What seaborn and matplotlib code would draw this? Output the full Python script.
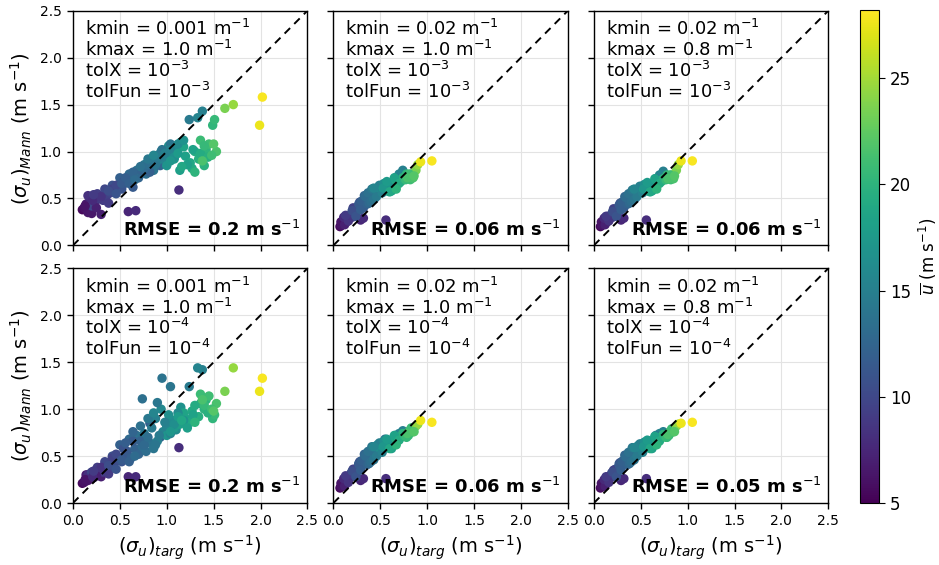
import numpy as np
import pandas as pd
import matplotlib
matplotlib.use("Agg")
import matplotlib.pyplot as plt
import seaborn as sns

# Mean wind speed of each run (colour)
U_mean = [5.5, 6.0, 6.3, 6.5, 6.8, 7.0, 7.2, 7.5, 7.5, 7.8, 8.0,
          8.2, 8.5, 8.8, 9.0, 9.2, 9.5, 9.8, 10.0, 10.2, 10.5, 10.8, 11.0, 10.0, 9.0,
          11.2, 11.5, 11.8, 12.0, 12.2, 12.5, 12.8, 13.0, 13.2, 13.5, 13.8, 14.0, 11.5, 12.0, 12.5,
          14.2, 14.5, 14.8, 15.0, 15.2, 15.5, 15.8, 16.0, 16.2, 16.5,
          15.0, 15.5, 14.5, 13.8, 14.0, 13.5, 14.2, 16.8,
          17.0, 17.5, 18.0, 18.2, 18.5, 18.8, 19.0, 19.2, 19.5, 19.8, 20.0, 20.2, 20.5, 21.0, 21.5, 20.8,
          23.5, 24.5, 27.5, 28.0,
          6.2, 7.0, 7.8, 8.5, 9.0, 9.5, 10.0, 10.5, 10.8, 11.0, 11.5, 11.8, 12.0, 12.2, 12.5, 12.8,
          13.0, 13.3, 13.6, 14.0, 14.3, 14.6, 15.0, 15.3, 15.6, 16.0, 16.4, 16.8, 17.2, 17.6, 18.0,
          18.4, 18.8, 19.2, 19.6, 20.0, 20.5, 21.0, 21.5, 22.0]

# Target sigma_u for kmin = 0.001 and kmin = 0.02
targ_kmin0001 = [0.10, 0.12, 0.16, 0.20, 0.14, 0.30, 0.22, 0.18, 0.59, 0.67, 1.13,
                 0.16, 0.24, 0.28, 0.32, 0.26, 0.36, 0.40, 0.34, 0.44, 0.48, 0.42, 0.52, 0.20, 0.38,
                 0.55, 0.58, 0.62, 0.50, 0.66, 0.70, 0.60, 0.74, 0.78, 0.68, 0.82, 0.86, 0.64, 0.82, 0.93,
                 0.76, 0.84, 0.90, 0.88, 0.96, 1.00, 0.94, 1.06, 1.10, 1.02,
                 1.38, 1.33, 1.24, 0.95, 1.04, 0.74, 0.90, 1.15,
                 1.00, 1.08, 1.14, 1.20, 1.18, 1.25, 1.27, 1.30, 1.34, 1.40, 1.42, 1.49, 1.51, 1.45, 1.53, 1.36,
                 1.62, 1.71, 1.99, 2.02,
                 0.13, 0.25, 0.21, 0.30, 0.22, 0.42, 0.46, 0.38, 0.54, 0.46, 0.52, 0.56, 0.60, 0.72, 0.64, 0.76,
                 0.66, 0.80, 0.72, 0.88, 0.80, 0.92, 0.98, 1.04, 0.86, 1.12, 1.08, 1.18, 1.04, 1.12, 1.22,
                 1.28, 1.16, 1.36, 1.44, 1.30, 1.40, 1.48, 1.38, 1.50]
targ_kmin002 = [0.07, 0.08, 0.09, 0.10, 0.09, 0.14, 0.12, 0.11, 0.29, 0.32, 0.56,
                0.10, 0.13, 0.15, 0.17, 0.15, 0.19, 0.21, 0.19, 0.23, 0.25, 0.23, 0.27, 0.12, 0.20,
                0.28, 0.30, 0.31, 0.27, 0.33, 0.35, 0.31, 0.37, 0.38, 0.35, 0.40, 0.42, 0.32, 0.39, 0.44,
                0.38, 0.42, 0.45, 0.44, 0.47, 0.50, 0.47, 0.52, 0.54, 0.51,
                0.74, 0.70, 0.66, 0.55, 0.53, 0.40, 0.46, 0.58,
                0.50, 0.55, 0.58, 0.61, 0.60, 0.63, 0.64, 0.66, 0.69, 0.72, 0.74, 0.78, 0.80, 0.82, 0.85, 0.83,
                0.88, 0.90, 0.93, 1.05,
                0.08, 0.12, 0.11, 0.16, 0.13, 0.21, 0.24, 0.20, 0.28, 0.24, 0.27, 0.29, 0.30, 0.36, 0.33, 0.38,
                0.34, 0.40, 0.37, 0.43, 0.41, 0.46, 0.49, 0.52, 0.43, 0.56, 0.54, 0.59, 0.53, 0.57, 0.62,
                0.65, 0.60, 0.70, 0.75, 0.67, 0.77, 0.81, 0.79, 0.86]

# Mann sigma_u, one list per panel
mann_tl = [0.38, 0.40, 0.35, 0.34, 0.44, 0.33, 0.45, 0.50, 0.36, 0.37, 0.59,
           0.53, 0.47, 0.50, 0.48, 0.55, 0.53, 0.56, 0.60, 0.58, 0.62, 0.64, 0.60, 0.42, 0.45,
           0.66, 0.70, 0.68, 0.72, 0.74, 0.72, 0.76, 0.78, 0.76, 0.80, 0.82, 0.80, 0.62, 0.78, 0.85,
           0.86, 0.88, 0.90, 0.94, 0.92, 0.96, 1.00, 0.98, 1.04, 1.06,
           1.43, 1.36, 1.34, 1.02, 1.08, 0.84, 0.96, 1.10,
           0.85, 0.92, 0.80, 0.95, 1.05, 0.88, 0.82, 1.00, 0.92, 0.85, 1.02, 1.28, 1.34, 1.08, 1.00, 1.12,
           1.46, 1.50, 1.28, 1.58,
           0.42, 0.40, 0.48, 0.52, 0.54, 0.60, 0.64, 0.58, 0.68, 0.55, 0.66, 0.72, 0.66, 0.80, 0.78, 0.82,
           0.70, 0.86, 0.84, 0.86, 0.92, 0.94, 0.98, 1.02, 0.96, 1.08, 0.94, 1.12, 0.90, 0.98, 0.86,
           1.02, 0.84, 0.98, 0.94, 0.78, 1.06, 0.96, 0.90, 1.08]
mann_tm = [0.20, 0.21, 0.22, 0.23, 0.24, 0.25, 0.26, 0.27, 0.27, 0.29, 0.27,
           0.25, 0.27, 0.28, 0.30, 0.31, 0.32, 0.34, 0.33, 0.36, 0.37, 0.38, 0.39, 0.26, 0.30,
           0.41, 0.42, 0.43, 0.42, 0.45, 0.46, 0.45, 0.48, 0.49, 0.48, 0.51, 0.52, 0.40, 0.47, 0.50,
           0.52, 0.54, 0.56, 0.57, 0.58, 0.60, 0.61, 0.62, 0.63, 0.64,
           0.80, 0.76, 0.72, 0.62, 0.63, 0.52, 0.57, 0.66,
           0.56, 0.60, 0.58, 0.64, 0.66, 0.62, 0.64, 0.68, 0.67, 0.68, 0.72, 0.76, 0.74, 0.70, 0.72, 0.76,
           0.80, 0.86, 0.89, 0.90,
           0.25, 0.22, 0.30, 0.26, 0.32, 0.40, 0.34, 0.37, 0.46, 0.31, 0.44, 0.38, 0.47, 0.44, 0.53, 0.45,
           0.52, 0.47, 0.56, 0.49, 0.60, 0.52, 0.64, 0.56, 0.61, 0.62, 0.66, 0.63, 0.61, 0.68, 0.58,
           0.72, 0.57, 0.66, 0.71, 0.60, 0.70, 0.76, 0.72, 0.74]
mann_tr = [0.20, 0.21, 0.22, 0.23, 0.24, 0.25, 0.26, 0.27, 0.27, 0.29, 0.27,
           0.25, 0.27, 0.28, 0.30, 0.31, 0.32, 0.33, 0.33, 0.35, 0.37, 0.37, 0.39, 0.26, 0.30,
           0.40, 0.42, 0.43, 0.42, 0.45, 0.46, 0.45, 0.48, 0.48, 0.48, 0.50, 0.51, 0.40, 0.47, 0.50,
           0.52, 0.54, 0.55, 0.57, 0.57, 0.59, 0.60, 0.61, 0.62, 0.63,
           0.79, 0.75, 0.71, 0.60, 0.62, 0.52, 0.56, 0.65,
           0.56, 0.60, 0.58, 0.63, 0.65, 0.62, 0.63, 0.67, 0.66, 0.68, 0.71, 0.75, 0.74, 0.70, 0.71, 0.75,
           0.80, 0.86, 0.90, 0.90,
           0.25, 0.22, 0.29, 0.26, 0.31, 0.39, 0.34, 0.36, 0.45, 0.31, 0.43, 0.38, 0.46, 0.44, 0.52, 0.45,
           0.51, 0.47, 0.55, 0.49, 0.59, 0.52, 0.63, 0.56, 0.60, 0.62, 0.65, 0.63, 0.60, 0.67, 0.58,
           0.71, 0.57, 0.66, 0.70, 0.60, 0.70, 0.75, 0.71, 0.74]
mann_bl = [0.21, 0.22, 0.24, 0.26, 0.30, 0.28, 0.27, 0.31, 0.28, 0.28, 0.59,
           0.30, 0.32, 0.35, 0.33, 0.38, 0.40, 0.37, 0.44, 0.42, 0.46, 0.50, 0.44, 0.33, 0.31,
           0.50, 0.55, 0.48, 0.62, 0.58, 0.52, 0.68, 0.60, 0.55, 0.72, 0.64, 0.58, 0.66, 0.85, 0.70,
           0.74, 0.80, 0.66, 0.90, 0.76, 0.82, 1.00, 0.88, 0.78, 0.94,
           1.42, 1.44, 1.24, 1.33, 1.24, 1.11, 1.07, 1.02,
           0.72, 0.80, 0.84, 0.90, 0.96, 0.86, 0.98, 1.04, 0.92, 1.00, 1.10, 0.90, 0.94, 1.14, 1.06, 1.16,
           1.19, 1.44, 1.19, 1.33,
           0.25, 0.29, 0.28, 0.38, 0.34, 0.48, 0.52, 0.40, 0.58, 0.36, 0.46, 0.64, 0.44, 0.66, 0.76, 0.62,
           0.50, 0.70, 0.82, 0.62, 0.90, 0.72, 0.86, 0.74, 0.96, 0.96, 0.84, 0.88, 0.76, 0.92, 0.80,
           0.94, 0.88, 1.06, 0.96, 0.86, 1.04, 1.00, 1.10, 0.98]
mann_bm = [0.16, 0.17, 0.18, 0.19, 0.21, 0.22, 0.20, 0.23, 0.24, 0.26, 0.26,
           0.22, 0.24, 0.26, 0.27, 0.28, 0.30, 0.31, 0.32, 0.33, 0.35, 0.36, 0.36, 0.25, 0.28,
           0.38, 0.40, 0.41, 0.42, 0.43, 0.44, 0.45, 0.46, 0.47, 0.49, 0.49, 0.50, 0.44, 0.52, 0.50,
           0.52, 0.54, 0.54, 0.58, 0.57, 0.59, 0.62, 0.61, 0.62, 0.63,
           0.77, 0.74, 0.72, 0.68, 0.65, 0.56, 0.59, 0.66,
           0.55, 0.60, 0.62, 0.64, 0.66, 0.63, 0.67, 0.69, 0.68, 0.70, 0.74, 0.70, 0.72, 0.75, 0.76, 0.80,
           0.82, 0.84, 0.88, 0.86,
           0.21, 0.18, 0.26, 0.22, 0.29, 0.36, 0.30, 0.34, 0.44, 0.28, 0.41, 0.35, 0.45, 0.41, 0.52, 0.42,
           0.50, 0.44, 0.55, 0.46, 0.60, 0.50, 0.64, 0.54, 0.60, 0.62, 0.66, 0.62, 0.60, 0.68, 0.58,
           0.72, 0.58, 0.67, 0.72, 0.62, 0.71, 0.77, 0.74, 0.76]
mann_br = [0.16, 0.17, 0.18, 0.19, 0.21, 0.22, 0.20, 0.23, 0.24, 0.26, 0.26,
           0.22, 0.24, 0.26, 0.27, 0.28, 0.30, 0.31, 0.32, 0.33, 0.35, 0.36, 0.36, 0.25, 0.28,
           0.38, 0.40, 0.41, 0.42, 0.43, 0.44, 0.45, 0.46, 0.47, 0.49, 0.49, 0.50, 0.44, 0.52, 0.50,
           0.52, 0.54, 0.54, 0.58, 0.57, 0.59, 0.61, 0.60, 0.62, 0.63,
           0.76, 0.74, 0.72, 0.63, 0.62, 0.55, 0.58, 0.65,
           0.55, 0.60, 0.62, 0.64, 0.66, 0.63, 0.67, 0.69, 0.68, 0.70, 0.73, 0.70, 0.72, 0.75, 0.76, 0.79,
           0.82, 0.84, 0.85, 0.86,
           0.21, 0.18, 0.25, 0.22, 0.28, 0.35, 0.30, 0.33, 0.43, 0.28, 0.40, 0.35, 0.44, 0.41, 0.51, 0.42,
           0.49, 0.44, 0.54, 0.46, 0.59, 0.50, 0.63, 0.54, 0.59, 0.61, 0.65, 0.62, 0.60, 0.67, 0.58,
           0.71, 0.58, 0.66, 0.71, 0.62, 0.70, 0.76, 0.73, 0.76]

kmin_labels = ["0.001", "0.02", "0.02"]
kmax_labels = ["1.0", "1.0", "0.8"]
tol_labels = ["-3", "-4"]
rmse_labels = [["0.2", "0.06", "0.06"], ["0.2", "0.06", "0.05"]]

panel_x = [[targ_kmin0001, targ_kmin002, targ_kmin002],
           [targ_kmin0001, targ_kmin002, targ_kmin002]]
panel_y = [[mann_tl, mann_tm, mann_tr], [mann_bl, mann_bm, mann_br]]

sns.set_style("ticks")
plt.rcParams['font.family'] = ['DejaVu Sans']
plt.rcParams['mathtext.fontset'] = 'dejavusans'
for key in ['text.color', 'axes.labelcolor', 'xtick.color', 'ytick.color', 'axes.edgecolor']:
    plt.rcParams[key] = 'black'

VMIN, VMAX = 5.0, 28.2
norm = matplotlib.colors.Normalize(VMIN, VMAX)

fig, axes = plt.subplots(2, 3, figsize=(9.39, 5.65), dpi=100, sharex=True, sharey=True)
fig.subplots_adjust(left=0.0777, right=0.8821, top=0.981, bottom=0.1097,
                    wspace=0.111, hspace=0.098)

for r in range(2):
    for c in range(3):
        ax = axes[r, c]
        df = pd.DataFrame({"targ": panel_x[r][c], "mann": panel_y[r][c], "U": U_mean})
        sns.scatterplot(data=df, x="targ", y="mann", hue="U", palette="viridis",
                        hue_norm=norm, legend=False, s=46, linewidth=0, ax=ax, zorder=3)
        ax.plot([0, 2.5], [0, 2.5], color="black", linestyle=(0, (4, 3)), linewidth=1.4, zorder=4)
        ax.set_xlim(0, 2.5)
        ax.set_ylim(0, 2.5)
        ax.set_xticks([0, 0.5, 1.0, 1.5, 2.0, 2.5])
        ax.set_yticks([0, 0.5, 1.0, 1.5, 2.0, 2.5])
        ax.grid(True, color="#e3e3e3", linewidth=0.8, zorder=0)
        ax.set_axisbelow(True)
        ax.tick_params(labelsize=10, length=4.5, width=1, color="black", labelcolor="black")
        for sp in ax.spines.values():
            sp.set_color("black")
            sp.set_linewidth(1.0)
        txt = ("kmin = %s m$^{-1}$\nkmax = %s m$^{-1}$\ntolX = 10$^{%s}$\ntolFun = 10$^{%s}$"
               % (kmin_labels[c], kmax_labels[c], tol_labels[r], tol_labels[r]))
        ax.text(0.05, 0.965, txt, transform=ax.transAxes, ha="left", va="top",
                fontsize=13, linespacing=1.05, zorder=5, color="black")
        ax.text(0.97, 0.025, "RMSE = %s m s$^{-1}$" % rmse_labels[r][c],
                transform=ax.transAxes, ha="right", va="bottom",
                fontsize=13, fontweight="bold", zorder=5, color="black")
        if r == 1:
            ax.set_xlabel(r"$(\sigma_u)_{targ}$ (m s$^{-1}$)", fontsize=14, color="black")
        else:
            ax.set_xlabel("")
        if c == 0:
            ax.set_ylabel(r"$(\sigma_u)_{Mann}$ (m s$^{-1}$)", fontsize=14, color="black")
        else:
            ax.set_ylabel("")

cax = fig.add_axes([0.9159, 0.1097, 0.0202, 0.8726])
sm = matplotlib.cm.ScalarMappable(norm=norm, cmap="viridis")
cb = fig.colorbar(sm, cax=cax)
cb.set_ticks([5, 10, 15, 20, 25])
cb.ax.tick_params(labelsize=12, length=4.5, color="black", labelcolor="black")
cb.outline.set_edgecolor("black")
cb.set_label(r"$\overline{u}$ (m s$^{-1}$)", fontsize=12, color="black")

fig.savefig("out.png", dpi=100)
